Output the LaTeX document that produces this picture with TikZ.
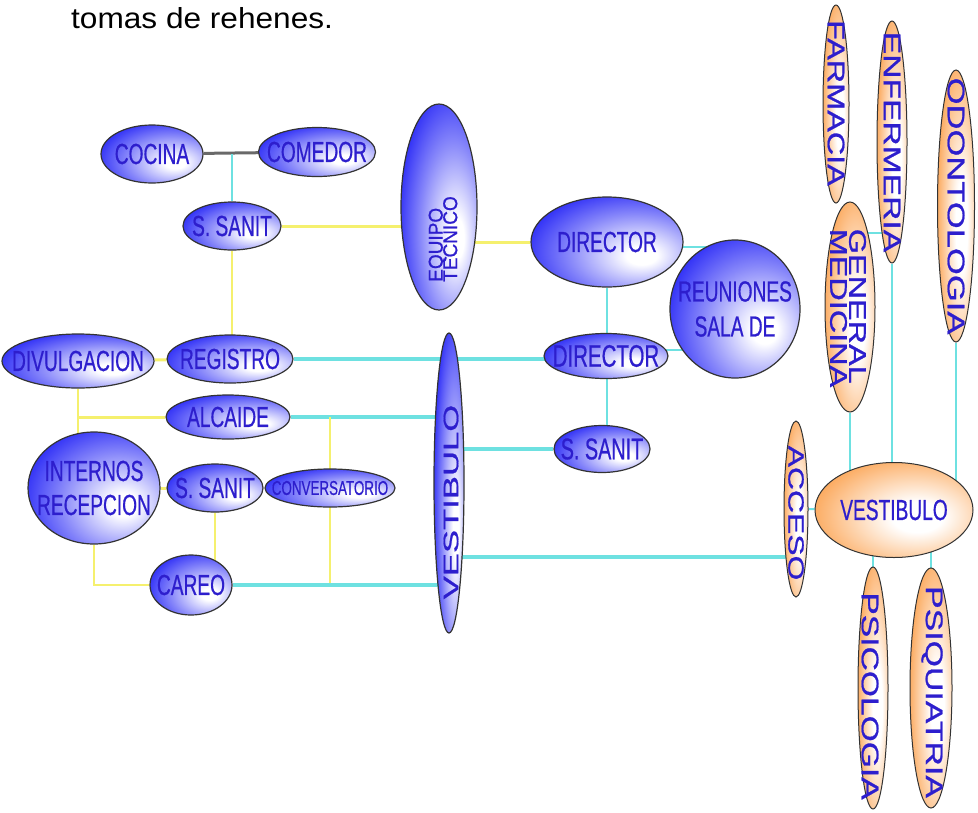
\documentclass[tikz,border=0pt]{standalone}
\usepackage{fontspec}
\setmainfont{Liberation Sans}
\newfontfamily\nodefont[FakeBold=0.8]{Liberation Sans}
\usepackage{graphicx}
\usetikzlibrary{shapes.geometric,calc}
\definecolor{tblue}{RGB}{45,30,205}
\definecolor{fblue}{RGB}{15,15,245}
\definecolor{forg}{RGB}{250,125,10}
\definecolor{cyl}{RGB}{110,225,225}
\definecolor{yel}{RGB}{245,240,110}
\definecolor{gry}{RGB}{105,105,105}
\pgfdeclareradialshading{bsh}{\pgfpoint{12bp}{-8bp}}{color(0bp)=(white); color(5bp)=(white); color(22bp)=(fblue!50!white); color(40bp)=(fblue); color(100bp)=(fblue)}
\pgfdeclareradialshading{osh}{\pgfpoint{8bp}{-4bp}}{color(0bp)=(white); color(8bp)=(white); color(26bp)=(forg!50!white); color(44bp)=(forg); color(100bp)=(forg)}
\pgfdeclarelayer{bg}
\pgfsetlayers{bg,main}
\newcommand\hs[1]{\scalebox{0.66}[1]{#1}}
\newcommand\vl[3]{\vbox{\baselineskip=#1\lineskiplimit=-50pt\lineskip=0pt\hbox{#2}\hbox{#3}}}
\newcommand\vc[3]{\vbox{\baselineskip=#1\lineskiplimit=-50pt\lineskip=0pt\halign{\hfil##\hfil\cr #2\cr #3\cr}}}
\tikzset{
 bub/.style={ellipse, draw=black!80, line width=1.2pt, shading=bsh, inner sep=0pt},
 org/.style={ellipse, draw=black!80, line width=1pt, shading=osh, inner sep=0pt},
 sz/.style 2 args={minimum width=#1pt, minimum height=#2pt},
 txt/.style={inner sep=0pt, text=tblue, font=\nodefont\fontsize{29}{34}\selectfont},
 otxt/.style={inner sep=0pt, text=tblue, font=\nodefont\fontsize{24}{19}\selectfont},
 cy/.style={draw=cyl, line width=3.2pt},
 cyt/.style={draw=cyl, line width=2pt},
 yl/.style={draw=yel, line width=3pt},
 ylt/.style={draw=yel, line width=2.2pt},
 gl/.style={draw=gry, line width=3pt},
}
\begin{document}
\begin{tikzpicture}[x=1pt,y=-1pt]
\useasboundingbox (0,0) rectangle (978,812);
\node[anchor=base west, inner sep=0pt, font=\fontsize{29}{34}\selectfont] (title) at (71,28) {\scalebox{1.09}[1]{tomas de rehenes.}};
% blue nodes
\node[bub, sz={102}{58}] (cocina) at (152,154) {};
\node[bub, sz={117}{49}] (comedor) at (317,152) {};
\node[bub, sz={98}{48}] (sanitA) at (232,226) {};
\node[bub, sz={76}{206}] (equipo) at (439,207) {};
\node[bub, sz={152}{54}] (divul) at (78,361) {};
\node[bub, sz={126}{48}] (registro) at (230,359) {};
\node[bub, sz={124}{44}] (alcaide) at (228,417) {};
\node[bub, sz={132}{112}] (internos) at (94,488) {};
\node[bub, sz={96}{48}] (sanitB) at (215,488) {};
\node[bub, sz={130}{38}] (conv) at (330,488) {};
\node[bub, sz={82}{60}] (careo) at (191,585) {};
\node[bub, sz={30}{300}] (vest1) at (449,483) {};
\node[bub, sz={152}{90}] (director) at (607,242) {};
\node[bub, sz={124}{45}] (director2) at (606,356) {};
\node[bub, sz={96}{47}] (sanitC) at (602,449) {};
\node[bub, sz={130}{138}] (reun) at (735,309) {};
% orange nodes
\node[org, sz={24}{176}] (acceso) at (796,509) {};
\node[org, sz={158}{95}] (vest2) at (894,510) {};
\node[org, sz={26}{198}] (farm) at (836,104) {};
\node[org, sz={30}{242}] (enfer) at (892,142) {};
\node[org, sz={37}{272}] (odon) at (956,206) {};
\node[org, sz={50}{210}] (medic) at (850,307) {};
\node[org, sz={30}{242}] (psico) at (873,688) {};
\node[org, sz={42}{240}] (psiq) at (931,688) {};
% labels
\node[txt] (cocinaL) at (cocina) {\hs{COCINA}};
\node[txt] (comedorL) at (comedor) {\hs{COMEDOR}};
\node[txt] (sanitAL) at (sanitA) {\hs{S. SANIT}};
\node[txt, font=\nodefont\fontsize{20}{14}\selectfont] (equipoL) at (443,239) {\rotatebox{90}{\scalebox{0.95}[1]{\vl{14.5pt}{EQUIPO}{TECNICO}}}};
\node[txt] (divulL) at (divul) {\hs{DIVULGACION}};
\node[txt] (registroL) at (registro) {\hs{REGISTRO}};
\node[txt] (alcaideL) at (alcaide) {\hs{ALCAIDE}};
\node[txt] (internosL) at (internos) {\hs{\vc{34pt}{INTERNOS}{RECEPCION}}};
\node[txt] (sanitBL) at (sanitB) {\hs{S. SANIT}};
\node[txt, font=\nodefont\fontsize{20}{24}\selectfont] (convL) at (conv) {\scalebox{0.67}[1]{CONVERSATORIO}};
\node[txt] (careoL) at (careo) {\hs{CAREO}};
\node[txt, font=\nodefont\fontsize{21}{24}\selectfont] (vest1L) at (451,502) {\rotatebox{90}{\scalebox{1.65}[1]{VESTIBULO}}};
\node[txt] (directorL) at (director) {\hs{DIRECTOR}};
\node[txt, font=\nodefont\fontsize{31}{36}\selectfont] (director2L) at (director2) {\hs{DIRECTOR}};
\node[txt, font=\nodefont\fontsize{30}{36}\selectfont] (sanitCL) at (sanitC) {\hs{S. SANIT}};
\node[txt] (reunL) at (reun) {\hs{\vc{35pt}{REUNIONES}{SALA DE}}};
\node[otxt, font=\nodefont\fontsize{22}{19}\selectfont] (accesoL) at (796,513) {\rotatebox{-90}{\scalebox{1.45}[1]{ACCESO}}};
\node[txt] (vest2L) at (vest2) {\hs{VESTIBULO}};
\node[otxt] (farmL) at (836,103) {\rotatebox{-90}{\scalebox{1.35}[1]{FARMACIA}}};
\node[otxt] (enferL) at (892,142) {\rotatebox{-90}{\scalebox{1.4}[1]{ENFERMERIA}}};
\node[otxt] (odonL) at (956,206) {\rotatebox{-90}{\scalebox{1.44}[1]{ODONTOLOGIA}}};
\node[otxt] (medicL) at (848,308) {\rotatebox{-90}{\scalebox{1.35}[1]{\vl{19pt}{GENERAL}{MEDICINA}}}};
\node[otxt] (psicoL) at (870,696) {\rotatebox{-90}{\scalebox{1.4}[1]{PSICOLOGIA}}};
\node[otxt] (psiqL) at (932,692) {\rotatebox{-90}{\scalebox{1.41}[1]{PSIQUIATRIA}}};
% connectors
\begin{pgfonlayer}{bg}
\draw[gl] (cocina) -- (comedor);
\draw[cyt] (sanitA) -- (sanitA |- cocina);
\draw[yl] (sanitA) -- (sanitA -| equipo);
\draw[yl] (director) -- (director -| equipo);
\draw[ylt] (sanitA) -- (sanitA |- registro);
\draw[yl] (divul) -- (registro);
\draw[cy] (registro) -- (registro -| director2);
\draw[ylt] (divul) -- (divul |- internos);
\draw[yl] (divul |- alcaide) -- (alcaide);
\draw[cy] (alcaide) -- (alcaide -| vest1);
\draw[ylt] (conv |- alcaide) -- (conv |- careo);
\draw[yl] (internos) -- (sanitB);
\draw[ylt] (sanitB) -- (sanitB |- careo);
\draw[ylt] (internos) |- (careo);
\draw[cy] (careo) -- (careo -| vest1);
\draw[cy] (sanitC) -- (sanitC -| vest1);
\coordinate (va) at (449,557);
\draw[cy] (va) -- (va -| acceso);
\draw[cyt] (director) -- (director |- sanitC);
\coordinate (da) at (607,247);
\draw[cyt] (da) -- (da -| reun);
\coordinate (db) at (606,350);
\draw[cyt] (db) -- (db -| reun);
\draw[cyt] (acceso) -- (vest2);
\draw[cyt] (medic) -- (medic |- vest2);
\draw[cyt] (enfer) -- (enfer |- vest2);
\draw[cyt] (odon) -- (odon |- vest2);
\coordinate (ma) at (850,233);
\draw[cyt] (ma) -- (ma -| enfer);
\draw[cyt] (psico) -- (psico |- vest2);
\draw[cyt] (psiq) -- (psiq |- vest2);
\end{pgfonlayer}
\end{tikzpicture}
\end{document}
